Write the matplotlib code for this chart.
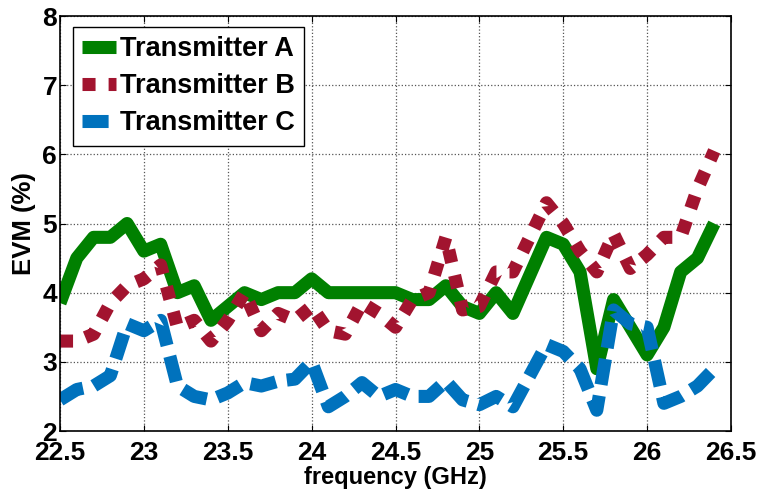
import matplotlib
matplotlib.use("Agg")
import matplotlib.pyplot as plt

freq = [22.5, 22.6, 22.7, 22.8, 22.9, 23.0, 23.1, 23.2, 23.3, 23.4,
        23.5, 23.6, 23.7, 23.8, 23.9, 24.0, 24.1, 24.2, 24.3, 24.4,
        24.5, 24.6, 24.7, 24.8, 24.9, 25.0, 25.1, 25.2, 25.3, 25.4,
        25.5, 25.6, 25.7, 25.8, 25.9, 26.0, 26.1, 26.2, 26.3, 26.4]

evm_a = [3.85, 4.5, 4.8, 4.8, 5.0, 4.6, 4.7, 4.0, 4.1, 3.6,
         3.8, 4.0, 3.9, 4.0, 4.0, 4.2, 4.0, 4.0, 4.0, 4.0,
         4.0, 3.9, 3.9, 4.1, 3.8, 3.7, 4.0, 3.7, 4.25, 4.8,
         4.7, 4.3, 2.9, 3.9, 3.5, 3.1, 3.5, 4.3, 4.5, 5.0]

evm_b = [3.3, 3.3, 3.4, 3.85, 4.1, 4.2, 4.4, 3.5, 3.6, 3.3,
         3.6, 4.0, 3.45, 3.7, 3.6, 3.8, 3.45, 3.4, 3.85, 3.7,
         3.5, 3.9, 4.0, 4.8, 3.75, 3.8, 4.3, 4.3, 4.8, 5.3,
         5.0, 4.6, 4.3, 4.85, 4.35, 4.55, 4.8, 4.8, 5.5, 6.05]

evm_c = [2.45, 2.6, 2.65, 2.8, 3.55, 3.45, 3.6, 2.65, 2.5, 2.45,
         2.55, 2.7, 2.65, 2.72, 2.75, 3.0, 2.35, 2.5, 2.7, 2.5,
         2.6, 2.5, 2.5, 2.72, 2.45, 2.38, 2.5, 2.35, 2.8, 3.25,
         3.15, 2.9, 2.3, 3.75, 3.55, 3.5, 2.4, 2.5, 2.65, 2.9]

labels = ["Transmitter A", "Transmitter B", "Transmitter C"]
xticks = [22.5, 23, 23.5, 24, 24.5, 25, 25.5, 26, 26.5]
yticks = [2, 3, 4, 5, 6, 7, 8]

plt.rcParams["font.family"] = ["Liberation Sans", "DejaVu Sans"]
plt.rcParams["font.weight"] = "bold"
plt.rcParams["axes.labelweight"] = "bold"
plt.rcParams["font.size"] = 19

fig = plt.figure(figsize=(7.6, 4.9), dpi=100)
ax = fig.add_axes([60 / 760, 59 / 490, 671 / 760, 415 / 490])

lw = 9.4
ax.plot(freq, evm_a, color="#008000", lw=lw, label=labels[0],
        solid_joinstyle="round", solid_capstyle="butt")
ax.plot(freq, evm_b, color="#A2142F", lw=lw, label=labels[1],
        dashes=(1.0, 1.0), dash_capstyle="butt", dash_joinstyle="round")
ax.plot(freq, evm_c, color="#0072BD", lw=lw, label=labels[2],
        dashes=(2.0, 0.85), dash_capstyle="butt", dash_joinstyle="round")

ax.set_xlim(22.5, 26.5)
ax.set_ylim(2, 8)
ax.set_xticks(xticks)
ax.set_xticklabels([f"{t:g}" for t in xticks])
ax.set_yticks(yticks)
ax.tick_params(direction="in", length=4, width=0.8, top=True, right=True)
ax.tick_params(axis="x", pad=7)
ax.tick_params(axis="y", pad=2)
ax.grid(True, linestyle=":", color="#555555", linewidth=0.9)
for s in ax.spines.values():
    s.set_linewidth(1.2)

ax.set_xlabel("frequency (GHz)", labelpad=1, fontsize=17)
ax.set_ylabel("EVM (%)", labelpad=5, fontsize=18.5)

leg = ax.legend(loc="upper left", bbox_to_anchor=(13 / 671, 1 - 11 / 415),
                borderaxespad=0, fancybox=False, framealpha=1,
                edgecolor="black", handlelength=1.25, handletextpad=0.12,
                labelspacing=0.4, borderpad=0.35, fontsize=19.5)
leg.get_frame().set_linewidth(1.0)

plt.savefig("out.png", dpi=100)
